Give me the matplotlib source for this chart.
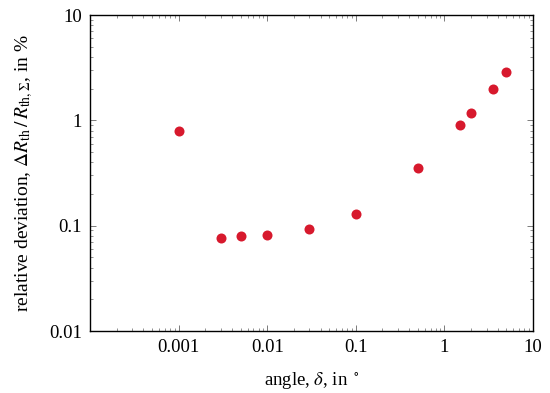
import matplotlib
matplotlib.use("Agg")
import matplotlib.pyplot as plt
from matplotlib.ticker import FixedLocator, FixedFormatter, LogLocator, NullFormatter

plt.rcParams['font.family'] = ['Liberation Serif', 'DejaVu Serif']
plt.rcParams['mathtext.fontset'] = 'stix'

# measured points
angle = [0.001, 0.003, 0.005, 0.01, 0.03, 0.1, 0.5, 1.5, 2.0, 3.5, 5.0]
deviation = [0.80, 0.077, 0.079, 0.082, 0.093, 0.13, 0.355, 0.90, 1.18, 2.0, 2.85]

xticks = [0.001, 0.01, 0.1, 1, 10]
xlabels = ['0.001', '0.01', '0.1', '1', '10']
yticks = [0.01, 0.1, 1, 10]
ylabels = ['0.01', '0.1', '1', '10']

fig = plt.figure(figsize=(5.5, 3.93), dpi=100)
ax = fig.add_axes([90/550, 1 - 331/393, 443/550, 316/393])

ax.scatter(angle, deviation, s=52, color='#d7192d', zorder=3, linewidths=0)

ax.set_xscale('log')
ax.set_yscale('log')
ax.set_xlim(1e-4, 10)
ax.set_ylim(0.01, 10)

ax.xaxis.set_major_locator(FixedLocator(xticks))
ax.xaxis.set_major_formatter(FixedFormatter(xlabels))
ax.yaxis.set_major_locator(FixedLocator(yticks))
ax.yaxis.set_major_formatter(FixedFormatter(ylabels))
ax.xaxis.set_minor_locator(LogLocator(base=10, subs=range(2, 10), numticks=20))
ax.yaxis.set_minor_locator(LogLocator(base=10, subs=range(2, 10), numticks=20))
ax.xaxis.set_minor_formatter(NullFormatter())
ax.yaxis.set_minor_formatter(NullFormatter())

ax.tick_params(which='both', direction='in', top=True, right=True, color='#666666')
ax.tick_params(which='major', length=4, width=0.6, labelsize=13.5, pad=6)
ax.tick_params(which='minor', length=2.5, width=0.5)
for sp in ax.spines.values():
    sp.set_linewidth(1.0)

ax.set_xlabel(r'angle, $\delta$, in $^\circ$', fontsize=13.5, labelpad=10)
ax.set_ylabel(r'relative deviation, $\Delta R_\mathrm{th}\,/\,R_{\mathrm{th},\Sigma}$, in %',
              fontsize=14, labelpad=10)

fig.savefig('out.png', dpi=100)
